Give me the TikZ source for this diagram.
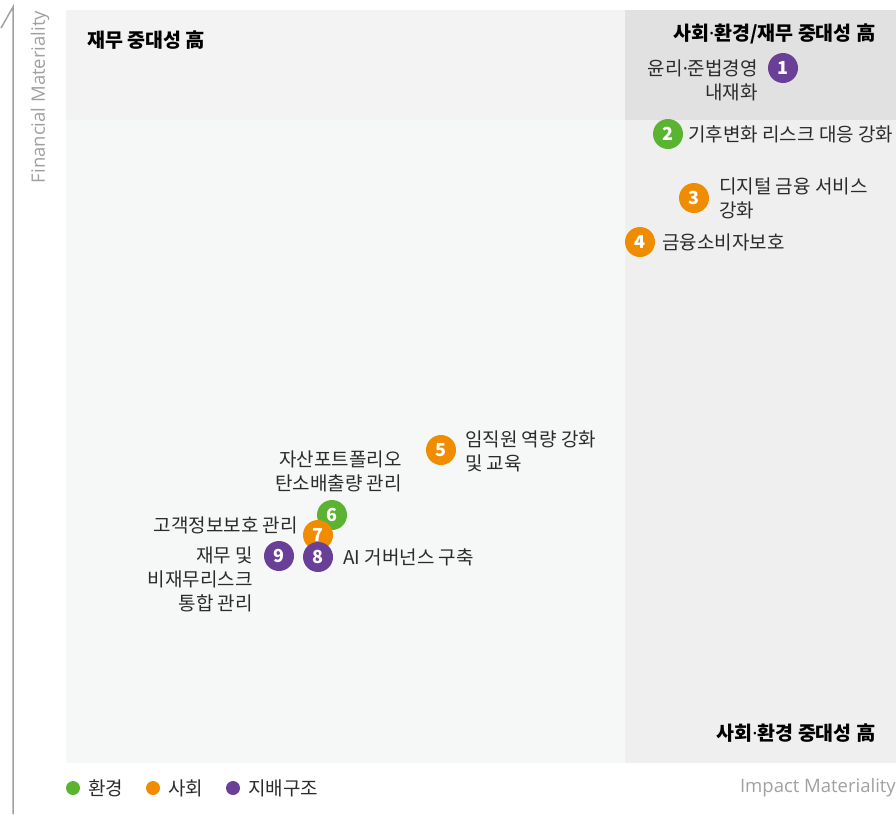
\documentclass[tikz,border=0pt]{standalone}
\usepackage{fontspec}
\setmainfont{Noto Sans CJK KR}
\newfontfamily\latinfont{Open Sans}
\newfontfamily\dotfont{Noto Sans}
\newcommand{\mdot}{{\dotfont ·}}
\definecolor{tlbg}{HTML}{F3F3F3}
\definecolor{trbg}{HTML}{E1E1E1}
\definecolor{blbg}{HTML}{F6F7F7}
\definecolor{brbg}{HTML}{EFEFEF}
\definecolor{envc}{HTML}{5BB431}
\definecolor{socc}{HTML}{F08C00}
\definecolor{govc}{HTML}{6A3F98}
\definecolor{txtc}{HTML}{2B2B2B}
\definecolor{axisc}{HTML}{A0A0A0}
\begin{document}
\begin{tikzpicture}[x=1pt,y=-1pt,
  lbl/.style={inner sep=0pt, font=\fontsize{19}{24}\selectfont, text=txtc},
  ttl/.style={inner sep=0pt, font=\fontsize{19.5}{22}\bfseries\selectfont, text=black},
  dot/.style={circle, minimum size=30pt, inner sep=0pt, text=white, font=\fontsize{18}{18}\bfseries\selectfont},
  legdot/.style={circle, minimum size=14pt, inner sep=0pt},
  axlbl/.style={inner sep=0pt, font=\latinfont\fontsize{18.5}{20}\selectfont, text=axisc}
]
\useasboundingbox (0,0) rectangle (896,814);
% quadrants
\fill[tlbg] (66,10) rectangle (625,120);
\fill[trbg] (625,10) rectangle (896,120);
\fill[blbg] (66,120) rectangle (625,763);
\fill[brbg] (625,120) rectangle (896,763);
% axis
\coordinate (axb) at (13,814);
\coordinate (axt) at (13,7);
\coordinate (axh) at (1,28);
\draw[axisc, line width=1.5pt] (axb) -- (axt) -- (axh);
\node[axlbl, rotate=90] (fm) at (40,97) {Financial Materiality};
\node[axlbl, anchor=east] (im) at (896,788) {Impact Materiality};
% titles
\node[ttl, anchor=west] (t1) at (87,40) {재무 중대성 高};
\node[ttl, anchor=east] (t2) at (876,34) {사회\mdot 환경/재무 중대성 高};
\node[ttl, anchor=east] (t3) at (876,733) {사회\mdot 환경 중대성 高};
% items
\node[dot, fill=govc] (d1) at (783,68) {1};
\node[lbl, anchor=east, align=right] (l1) at (758,80) {윤리\mdot 준법경영\\내재화};
\node[dot, fill=envc] (d2) at (668,134) {2};
\node[lbl, anchor=west] (l2) at (688,134) {기후변화 리스크 대응 강화};
\node[dot, fill=socc] (d3) at (694,198) {3};
\node[lbl, anchor=west, align=left] (l3) at (719,198) {디지털 금융 서비스\\강화};
\node[dot, fill=socc] (d4) at (640,242) {4};
\node[lbl, anchor=west] (l4) at (662,242) {금융소비자보호};
\node[dot, fill=socc] (d5) at (441,450) {5};
\node[lbl, anchor=west, align=left] (l5) at (465,451) {임직원 역량 강화\\및 교육};
\node[lbl, anchor=east, align=right] (l6) at (402,471) {자산포트폴리오\\탄소배출량 관리};
\node[dot, fill=envc] (d6) at (332,515) {6};
\node[lbl, anchor=east] (l7) at (298,525) {고객정보보호 관리};
\node[dot, fill=socc] (d7) at (318,535) {7};
\node[dot, fill=govc] (d8) at (318,557) {8};
\node[lbl, anchor=west] (l8) at (343,557) {AI 거버넌스 구축};
\node[dot, fill=govc] (d9) at (279,556) {9};
\node[lbl, anchor=east, align=right] (l9) at (253,579) {재무 및\\비재무리스크\\통합 관리};
% legend
\node[legdot, fill=envc] (g1) at (73,788) {};
\node[lbl, anchor=west] (gl1) at (88,788) {환경};
\node[legdot, fill=socc] (g2) at (153,788) {};
\node[lbl, anchor=west] (gl2) at (168,788) {사회};
\node[legdot, fill=govc] (g3) at (233,788) {};
\node[lbl, anchor=west] (gl3) at (248,788) {지배구조};
\end{tikzpicture}
\end{document}
